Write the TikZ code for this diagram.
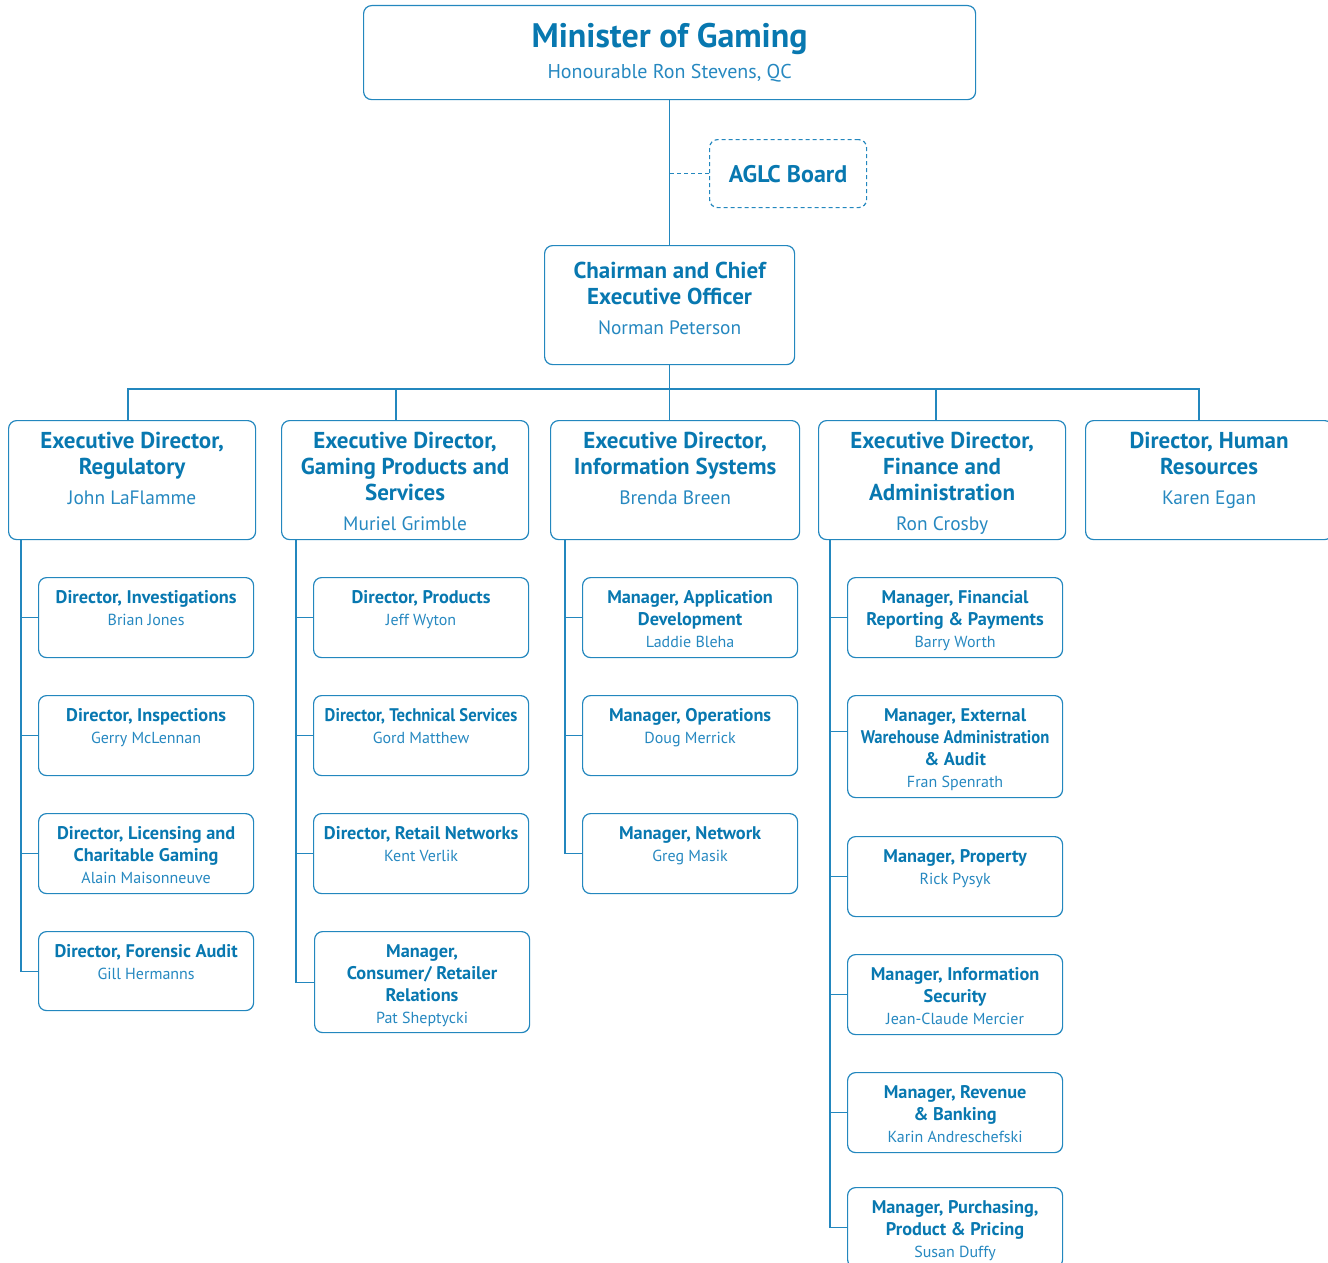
\documentclass[tikz,border=0pt]{standalone}
\usepackage{fontspec}
\setmainfont{PT Sans}
\newfontfamily\narrowfam{PT Sans}[FakeStretch=0.91]
\usetikzlibrary{calc}
\definecolor{tc}{RGB}{8,120,176}
\definecolor{nc}{RGB}{38,136,192}
\definecolor{lc}{RGB}{35,135,190}
\newcommand\subN{\mdseries\fontsize{16}{22}\selectfont\color{nc}}
\newcommand\exN{\mdseries\fontsize{19.4}{26}\selectfont\color{nc}}
\newcommand\nrw{\narrowfam\bfseries}
\newcommand\obox[5]{\node[bx, minimum width=#4pt, minimum height=#5pt] (#1) at (#2,#3) {};}
\begin{document}
\begin{tikzpicture}[x=1pt,y=-1pt,
  bx/.style={draw=lc, line width=1.2pt, rounded corners=8pt, inner sep=0pt, anchor=north west},
  ln/.style={draw=lc, line width=1.2pt},
  txt/.style={anchor=north, align=center, inner sep=0pt, text=tc},
  subtxt/.style={txt, font=\bfseries\fontsize{18.3}{22}\selectfont},
  extxt/.style={txt, font=\bfseries\fontsize{23}{26}\selectfont}]
\clip (0,0) rectangle (1328,1263);
% top
\obox{min}{363}{5}{612}{94}
\node[txt, font=\bfseries\fontsize{34}{31}\selectfont] at ([yshift=-18pt]min.north) {Minister of Gaming\\{\mdseries\fontsize{20}{26}\selectfont\color{nc}Honourable Ron Stevens, QC}};
\node[bx, dashed, dash pattern=on 4pt off 3pt, minimum width=157pt, minimum height=68pt] (aglc) at (709,139) {};
\node[txt, anchor=center, font=\bfseries\fontsize{24}{26}\selectfont] at (aglc.center) {AGLC Board};
\obox{ceo}{544}{245}{250}{119}
\node[extxt] at ([yshift=-17pt]ceo.north) {Chairman and Chief\\Executive Officer\\[3.5pt]\exN Norman Peterson};
\draw[ln] (min.south) -- (ceo.north);
\draw[ln, dashed, dash pattern=on 4pt off 3pt] (aglc.west) -- (aglc.west -| min.south);
% exec row
\obox{e1}{8}{420}{247}{119}
\obox{e2}{281}{420}{247}{119}
\obox{e3}{550}{420}{249}{119}
\obox{e4}{818}{420}{247}{119}
\obox{e5}{1085}{420}{247}{119}
\node[extxt] at ([yshift=-12pt]e1.north) {Executive Director,\\Regulatory\\[3.5pt]\exN John LaFlamme};
\node[extxt] at ([yshift=-12pt]e2.north) {Executive Director,\\Gaming Products and\\Services\\[3.5pt]\exN Muriel Grimble};
\node[extxt] at ([yshift=-12pt]e3.north) {Executive Director,\\Information Systems\\[3.5pt]\exN Brenda Breen};
\node[extxt] at ([yshift=-12pt]e4.north) {Executive Director,\\Finance and\\Administration\\[3.5pt]\exN Ron Crosby};
\node[extxt] at ([yshift=-12pt]e5.north) {Director, Human\\Resources\\[3.5pt]\exN Karen Egan};
\coordinate (b1) at (128,389);
\coordinate (b2) at (396,389);
\coordinate (b4) at (936,389);
\coordinate (b5) at (1199,389);
\draw[ln] (b1 |- e1.north) -- (b1) -- (b5) -- (b5 |- e5.north);
\draw[ln] (b2) -- (b2 |- e2.north);
\draw[ln] (b4) -- (b4 |- e4.north);
\draw[ln] (ceo.south) -- (ceo.south |- e3.north);
% column 1
\obox{s11}{38}{577}{215}{80}
\obox{s12}{38}{695}{215}{80}
\obox{s13}{38}{813}{215}{80}
\obox{s14}{38}{931}{215}{79}
\node[subtxt] at ([yshift=-13pt]s11.north) {Director, Investigations\\\subN Brian Jones};
\node[subtxt] at ([yshift=-13pt]s12.north) {Director, Inspections\\\subN Gerry McLennan};
\node[subtxt] at ([yshift=-13pt]s13.north) {Director, Licensing and\\Charitable Gaming\\\subN Alain Maisonneuve};
\node[subtxt] at ([yshift=-13pt]s14.north) {Director, Forensic Audit\\\subN Gill Hermanns};
% column 2
\obox{s21}{313}{577}{215}{80}
\obox{s22}{313}{695}{215}{80}
\obox{s23}{313}{813}{215}{80}
\obox{s24}{314}{931}{215}{101}
\node[subtxt] at ([yshift=-13pt]s21.north) {Director, Products\\\subN Jeff Wyton};
\node[subtxt] at ([yshift=-13pt]s22.north) {\nrw Director, Technical Services\\\subN Gord Matthew};
\node[subtxt] at ([yshift=-13pt]s23.north) {Director, Retail Networks\\\subN Kent Verlik};
\node[subtxt] at ([yshift=-13pt]s24.north) {Manager,\\Consumer/ Retailer\\Relations\\\subN Pat Sheptycki};
% column 3
\obox{s31}{582}{577}{215}{80}
\obox{s32}{582}{695}{215}{80}
\obox{s33}{582}{813}{215}{80}
\node[subtxt] at ([yshift=-13pt]s31.north) {Manager, Application\\Development\\\subN Laddie Bleha};
\node[subtxt] at ([yshift=-13pt]s32.north) {Manager, Operations\\\subN Doug Merrick};
\node[subtxt] at ([yshift=-13pt]s33.north) {Manager, Network\\\subN Greg Masik};
% column 4
\obox{s41}{847}{577}{215}{80}
\obox{s42}{847}{695}{215}{102}
\obox{s43}{847}{836}{215}{80}
\obox{s44}{847}{954}{215}{80}
\obox{s45}{847}{1072}{215}{80}
\obox{s46}{847}{1187}{215}{80}
\node[subtxt] at ([yshift=-13pt]s41.north) {Manager, Financial\\Reporting \& Payments\\\subN Barry Worth};
\node[subtxt] at ([yshift=-13pt]s42.north) {Manager, External\\\nrw Warehouse Administration\\\& Audit\\\subN Fran Spenrath};
\node[subtxt] at ([yshift=-13pt]s43.north) {Manager, Property\\\subN Rick Pysyk};
\node[subtxt] at ([yshift=-13pt]s44.north) {Manager, Information\\Security\\\subN Jean-Claude Mercier};
\node[subtxt] at ([yshift=-13pt]s45.north) {Manager, Revenue\\\& Banking\\\subN Karin Andreschefski};
\node[subtxt] at ([yshift=-13pt]s46.north) {Manager, Purchasing,\\Product \& Pricing\\\subN Susan Duffy};
% column connectors
\foreach \s in {s11,s12,s13,s21,s22,s23,s31,s32,s41,s43,s44,s45}
  \draw[ln] (\s.west) -- ++(-17,0);
\draw[ln] ([yshift=15pt]s42.west) -- ++(-17,0);
\draw[ln] (s14.west) -- ++(-17,0) coordinate (t1) -- (t1 |- e1.south);
\draw[ln] (s24.west) -- ++(-18,0) coordinate (t2) -- (t2 |- e2.south);
\draw[ln] (s33.west) -- ++(-17,0) coordinate (t3) -- (t3 |- e3.south);
\draw[ln] (s46.west) -- ++(-17,0) coordinate (t4) -- (t4 |- e4.south);
\end{tikzpicture}
\end{document}
